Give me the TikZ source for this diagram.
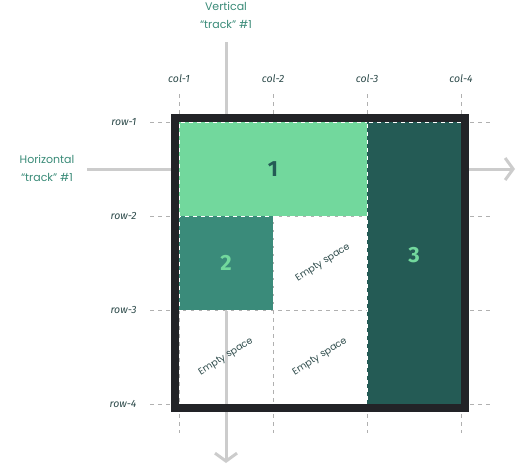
\documentclass[tikz,border=0pt]{standalone}
\usepackage{fontspec}
\setmainfont{Fira Sans}
\newfontfamily\handfont{Poppins}
\usetikzlibrary{arrows.meta}

\definecolor{leaf}{HTML}{72D89D}
\definecolor{teal}{HTML}{3A8B7A}
\definecolor{pine}{HTML}{245B55}
\definecolor{frame}{HTML}{222327}
\definecolor{labelink}{HTML}{2E4B4B}
\definecolor{handink}{HTML}{3A8B78}
\definecolor{trackgray}{HTML}{CCCCCC}
\definecolor{dashgray}{HTML}{B0B0B0}

\begin{document}
\begin{tikzpicture}[x=1pt, y=-1pt,
    track/.style={line width=3pt, color=trackgray, -{Straight Barb[length=8pt, width=22pt]}},
    gridline/.style={dashgray, line width=0.9pt, dash pattern=on 4pt off 4pt},
    block/.style={inner sep=0pt, draw=white, line width=0.8pt, dash pattern=on 4pt off 4pt, font=\fontsize{22}{22}\selectfont\bfseries},
    axislabel/.style={labelink, font=\fontsize{10.5}{12}\selectfont\itshape},
    handnote/.style={handink, align=center, font=\handfont\fontsize{11}{18}\selectfont},
    emptynote/.style={labelink, rotate=32, font=\handfont\fontsize{9.5}{12}\selectfont}]
    \useasboundingbox (0,0) rectangle (516,464);

    % Grid lines and their labels
    \foreach \i/\p in {1/179, 2/273, 3/367, 4/461} {
        \draw[gridline] (\p,94) -- (\p,433);
        \node[axislabel] (col\i) at (\p,79) {col-\i};
    }
    \foreach \i/\p in {1/122, 2/216, 3/310, 4/404} {
        \draw[gridline] (150,\p) -- (490,\p);
        \node[axislabel, anchor=east] (row\i) at (140,\p) {row-\i};
    }

    % Track lines
    \node[handnote] (vlabel) at (226,15) {Vertical\\“track” \#1};
    \node[handnote] (hlabel) at (47,168) {Horizontal\\“track” \#1};
    \coordinate (vstart) at (226,42);
    \coordinate (vend) at (226,463);
    \coordinate (hstart) at (87,169);
    \coordinate (hend) at (515,169);
    \draw[track] (vstart) -- (vend);
    \draw[track] (hstart) -- (hend);

    % Grid items
    \node[block, fill=leaf, text=pine, minimum width=188pt, minimum height=94pt] (item1) at (273,169) {1};
    \node[block, fill=teal, text=leaf, minimum width=94pt, minimum height=94pt] (item2) at (226,263) {2};
    \node[block, fill=pine, minimum width=94pt, minimum height=282pt] (item3) at (414,263) {};
    \node[block, draw=none, text=leaf] (num3) at (414,255) {3};

    % Outer frame of the grid container
    \draw[frame, line width=8pt] (175,118) rectangle (465,408);

    % Empty cells
    \node[emptynote] (empty1) at (323,263) {Empty space};
    \node[emptynote] (empty2) at (226,357) {Empty space};
    \node[emptynote] (empty3) at (320,357) {Empty space};
\end{tikzpicture}
\end{document}
